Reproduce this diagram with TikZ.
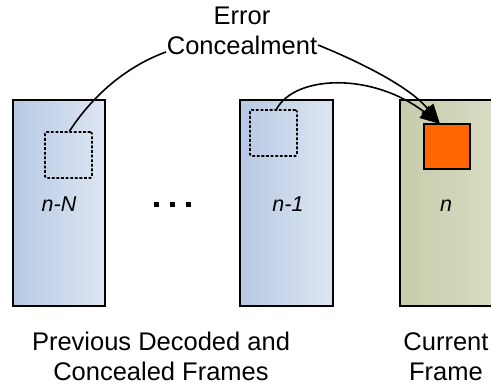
\documentclass[tikz,border=0pt]{standalone}
\usepackage{fontspec}
\setmainfont{Liberation Sans}
\usetikzlibrary{arrows.meta}
\definecolor{bluel}{RGB}{184,201,228}
\definecolor{bluer}{RGB}{221,230,242}
\definecolor{olivel}{RGB}{198,204,170}
\definecolor{oliver}{RGB}{217,221,198}
\definecolor{errorange}{RGB}{255,102,0}
\begin{document}
\begin{tikzpicture}[x=1pt,y=1pt,
  prevframe/.style={draw=black,line width=1.3pt,left color=bluel,right color=bluer},
  curframe/.style={draw=black,line width=1.3pt,left color=olivel,right color=oliver},
  dashbox/.style={draw=black,line width=1.7pt,dash pattern=on 2.8pt off 1.8pt,rounded corners=1.5pt},
  lostblock/.style={draw=black,line width=1.3pt,fill=errorange},
  bigtext/.style={font=\fontsize{25.5}{30}\selectfont,align=center,inner sep=0pt},
  frametext/.style={font=\fontsize{21.5}{24}\selectfont\itshape,inner sep=0pt,anchor=base},
  conn/.style={black,line width=1.6pt},
  connarrow/.style={conn,-{Triangle[length=20pt,width=15pt]}},
  dotsq/.style={fill=black,minimum size=5pt,inner sep=0pt}]
\useasboundingbox (0,0) rectangle (491,387);
% frames
\path[prevframe] (13,81) rectangle (105,287);
\path[prevframe] (240,81) rectangle (333,287);
\path[curframe] (400,81) rectangle (500,287);
\node[frametext] (lblN) at (59,175) {n-N};
\node[frametext] (lbl1) at (288,175) {n-1};
\node[frametext] (lbln) at (446,175) {n};
% blocks
\node[dashbox,minimum width=47pt,minimum height=46pt,inner sep=0pt] (sqN) at (68.5,232) {};
\node[dashbox,minimum width=47pt,minimum height=46pt,inner sep=0pt] (sq1) at (273.5,254) {};
\node[lostblock,minimum width=46pt,minimum height=45pt,inner sep=0pt] (lost) at (447,240.5) {};
\coordinate (tip) at (440,263);
% dots
\node[dotsq] (d1) at (156.5,182.5) {};
\node[dotsq] (d2) at (172.5,182.5) {};
\node[dotsq] (d3) at (188.5,182.5) {};
% label
\node[bigtext,anchor=south] (ec) at (242,332) {Error\\Concealment};
\coordinate (ecw) at (166,335);
\coordinate (ece) at (318,342);
% connectors
\draw[conn] ([xshift=1pt]sqN.north) .. controls (95,295) and (130,322) .. (ecw);
\draw[connarrow] (ece) .. controls (360,325) and (410,300) .. (tip);
\draw[connarrow] ([xshift=3pt]sq1.north) .. controls (295,312) and (372,315) .. (tip);
% bottom texts
\node[bigtext,anchor=south,font=\fontsize{25.5}{30}\selectfont] (prev) at (161,6) {Previous Decoded and\\Concealed Frames};
\node[bigtext,anchor=south,font=\fontsize{25.5}{30}\selectfont] (cur) at (446,6) {Current\\Frame};
\end{tikzpicture}
\end{document}
